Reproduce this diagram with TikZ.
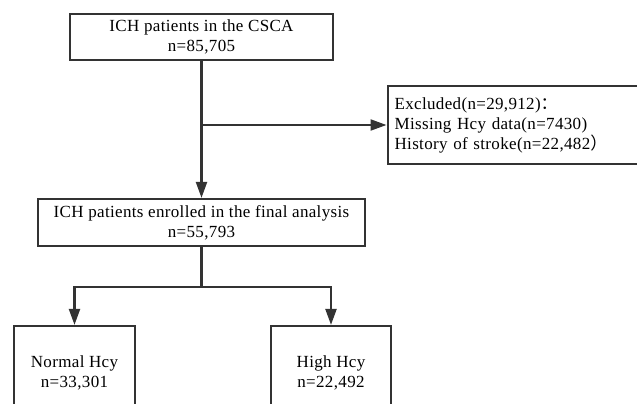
\documentclass[tikz,border=0pt]{standalone}
\usepackage{fontspec}
\setmainfont[LetterSpace=2]{Liberation Serif}
\newfontfamily\cjkfont{Noto Sans CJK SC}
\usetikzlibrary{arrows.meta}
\definecolor{linegray}{HTML}{333333}

\begin{document}
\begin{tikzpicture}[
  x = 1pt, y = -1pt,
  > = {Triangle[length=16pt,width=11pt]},
  box/.style = {draw=linegray,line width=2.2pt,align=center,inner sep=2pt,font=\fontsize{17}{20}\selectfont},
  conn/.style = {draw=linegray,line width=2.2pt}
  ]
  \useasboundingbox (0,0) rectangle (637,404);
  \clip (0,0) rectangle (637,404);
  \node[box,minimum width=263pt,minimum height=46pt] (@csca) at (201.5,37) {ICH patients in the CSCA\\n=85,705};
  \node[box,minimum width=280pt,minimum height=78pt,align=left,anchor=west,text width=266pt] (@excl) at (386.5,125)
    {Excluded(n=29,912){\cjkfont ：}\\Missing Hcy data(n=7430)\\History of stroke(n=22,482{\cjkfont ）}};
  \node[box,minimum width=327pt,minimum height=47pt] (@final) at (201.5,222.5) {ICH patients enrolled in the final analysis\\n=55,793};
  \node[box,minimum width=121pt,minimum height=94pt] (@normal) at (74.5,373) {Normal Hcy\\n=33,301};
  \node[box,minimum width=120pt,minimum height=94pt] (@high) at (331,373) {High Hcy\\n=22,492};
  \coordinate (@branch) at (@csca.south |- @excl.west);
  \coordinate (@split) at (201.5,287);
  \draw[conn,->] (@csca) -- (@final);
  \draw[conn,->] (@branch) -- (@excl);
  \draw[conn] (@final) -- (@split);
  \draw[conn,->] (@split) -| (@normal);
  \draw[conn,->] (@split) -| (@high);
\end{tikzpicture}
\end{document}
